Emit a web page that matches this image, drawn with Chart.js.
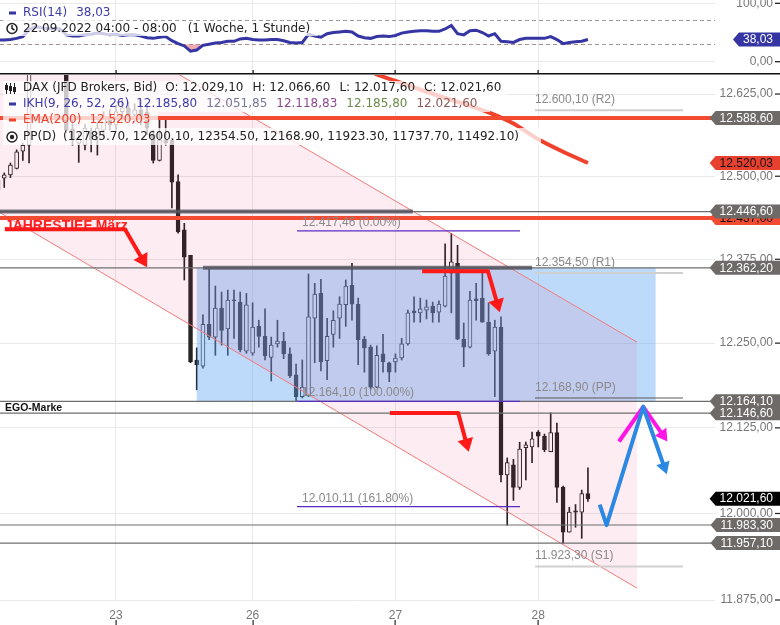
<!DOCTYPE html>
<html>
<head>
<meta charset="utf-8">
<script src="https://cdn.jsdelivr.net/npm/chart.js@4.4.0/dist/chart.umd.min.js"></script>
<style>
  html, body { margin: 0; padding: 0; background: #fff; }
  #wrap { position: relative; width: 780px; height: 625px; overflow: hidden; }
  #rsi { position: absolute; left: 0; top: 0; }
  #main { position: absolute; left: 0; top: 75px; }
</style>
</head>
<body>
<div id="wrap">
  <canvas id="rsi" width="780" height="75"></canvas>
  <canvas id="main" width="780" height="550"></canvas>
</div>
<script>
// hourly candles, index 0 = first hour of the 23rd
const firstIndex = -19;
const opens = [
  12494,12497,12502,12512,12538,12547,12662,12685,12690,12700,
  12688,12675,12572,12550,12547,12567,12558,12570,12588,12578,
  12598,12604,12593,12601,12598,12563,12524,12555,12555,12492,
  12419,12381,12225,12216,12278,12259,12302,12271,12314,12311,
  12238,12235,12275,12260,12229,12249,12253,12234,12203,12171,
  12172,12287,12324,12224,12263,12287,12307,12336,12308,12256,
  12244,12185,12234,12221,12222,12228,12249,12298,12295,12299,
  12305,12296,12305,12354,12369,12256,12244,12316,12317,12281,
  12238,12274,12056,12071,12038,12096,12097,12119,12113,12090,
  12118,12038,11973,12004,12002,12029.1
];
const highs = [
  12500,12505,12520,12540,12550,12669,12695,12705,12710,12715,
  12700,12690,12590,12564,12579,12573,12582,12598,12601,12608,
  12616,12613,12610,12616,12607,12570,12588,12588,12558,12502,
  12429,12381,12243,12292,12360,12335,12326,12329,12329,12326,
  12324,12310,12284,12301,12259,12284,12266,12243,12219,12225,
  12353,12339,12345,12287,12298,12319,12344,12369,12317,12260,
  12247,12246,12263,12222,12234,12257,12299,12319,12317,12314,
  12311,12313,12398,12414,12396,12280,12327,12339,12354,12310,
  12284,12289,12081,12079,12104,12104,12119,12121,12116,12147,
  12132,12040,12009,12013,12034,12066.6
];
const lows = [
  12474,12483,12498,12511,12524,12520,12658,12670,12675,12680,
  12665,12566,12547,12521,12540,12537,12532,12558,12570,12570,
  12585,12585,12582,12578,12563,12520,12523,12547,12452,12414,
  12344,12221,12181,12213,12255,12232,12247,12232,12257,12237,
  12235,12232,12244,12225,12194,12244,12227,12199,12165,12169,
  12171,12221,12209,12196,12244,12257,12275,12284,12218,12207,
  12182,12184,12207,12193,12207,12225,12247,12281,12281,12286,
  12281,12281,12304,12295,12255,12215,12243,12284,12281,12232,
  12171,12046,11983,12019,12035,12049,12074,12097,12090,12090,
  12016,11957,11973,11980,11964,12017.6
];
const closes = [
  12479,12502,12517,12537,12547,12662,12685,12690,12700,12688,
  12675,12570,12555,12556,12573,12555,12573,12588,12578,12598,
  12604,12593,12601,12588,12573,12524,12555,12550,12491,12416,
  12378,12222,12218,12278,12259,12302,12269,12314,12313,12240,
  12307,12274,12260,12231,12247,12253,12234,12202,12171,12185,
  12289,12323,12222,12260,12284,12308,12335,12308,12255,12243,
  12185,12232,12222,12207,12228,12249,12295,12295,12301,12304,
  12295,12308,12350,12371,12256,12244,12314,12313,12281,12234,
  12274,12056,12074,12038,12094,12100,12109,12113,12093,12118,
  12038,11973,12002,12002,12029,12021.6
];
const rsiValues = [
  37,37,38,40,43,55,60,58,57,57,
  56,46,44,44,46,47,49,48,46,47,
  45,46,46,44,41,40,42,43,36,31,
  27,18,20,28,30,32,33,35,35,39,
  40,38,37,37,38,38,36,33,32,33,
  47,44,42,48,50,51,52,51,44,41,
  40,43,44,43,45,49,51,52,53,53,
  52,52,56,62,48,46,53,54,50,44,
  48,35,34,33,38,40,40,40,40,43,
  38,31,33,34,35,38.03
];
const emaIndex = [40, 42, 45, 48, 52, 56, 60, 64, 68, 72, 76];
const emaValues = [12664, 12655, 12645, 12635, 12622, 12610, 12597, 12580, 12556, 12537, 12520.03];

const dayTicks = [0, 22, 45, 68];
const dayLabels = ['23', '26', '27', '28'];
const priceTicks = [11875, 12000, 12125, 12250, 12375, 12500, 12625];
const rsiTicks = [0, 30, 70, 100];

const greyLevels = [12446.6, 12362.2, 12164.1, 12146.6, 11983.3, 11957.1];
const redLevels = [12588.6, 12437.0];
const segStart = [-30, 14];
const segEnd = [47.8, 67];
const segPrice = [12446.6, 12362.2];
const fibValues = [12417.46, 12164.10, 12010.11];
const fibLabels = ['0.00%', '100.00%', '161.80%'];
const fibRange = [29.15, 65.06];
const pivotValues = [12600.10, 12354.50, 12168.90, 11923.30];
const pivotNames = ['R2', 'R1', 'PP', 'S1'];
const pivotRange = [67.47, 91.3];
const pivotDaily = [12785.70, 12600.10, 12354.50, 12168.90, 11923.30, 11737.70, 11492.10];
const ikhValues = [12185.80, 12051.85, 12118.83, 12185.80, 12021.60];
const channelUpper = [[10.3, 12654], [83.9, 12251.5]];
const channelLower = [[-18.68, 12445], [83.9, 11892]];
const boxIndex = [13.0, 86.9];
const boxPrice = [12362.2, 12164.1];
const arrowRed1 = [[-17.9, 12420], [1.45, 12420], [5.0, 12363]];
const arrowRed2 = [[49.3, 12357], [59.9, 12357], [61.8, 12296]];
const arrowRed3 = [[44.1, 12147], [55.1, 12147], [56.8, 12090]];
const arrowBlue = [[77.9, 12013], [79.0, 11983], [84.9, 12156], [88.7, 12057]];
const arrowMagenta = [[81.0, 12105], [84.9, 12156], [88.8, 12105]];
const jahrestiefAt = [-17.9, 12425];

const xMin = -18.68, xMax = 96.46;
const last = closes.length - 1;

function fmt(v) {
  const s = Number(v).toFixed(2).split('.');
  return s[0].replace(/\B(?=(\d{3})+(?!\d))/g, '.') + ',' + s[1];
}

Chart.defaults.font.family = '"Liberation Sans", Arial, sans-serif';
Chart.defaults.font.size = 12;
Chart.defaults.color = '#777';

// keep label overflow from shrinking the plot area
function noPad(s) {
  s.paddingTop = 0; s.paddingBottom = 0; s.paddingLeft = 0; s.paddingRight = 0;
}

function xScale(showLabels) {
  return {
    type: 'linear', min: xMin, max: xMax, offset: false,
    afterBuildTicks: s => { s.ticks = dayTicks.map(v => ({value: v})); },
    afterFit: s => { s.height = showLabels ? 25 : 1; noPad(s); },
    grid: {color: '#e9e9e9', drawTicks: false, offset: false},
    border: {display: false},
    ticks: {
      display: showLabels, padding: 8, maxRotation: 0, autoSkip: false, color: '#777',
      callback: v => { const k = dayTicks.indexOf(v); return k < 0 ? '' : dayLabels[k]; }
    }
  };
}

function tag(ctx, yPix, text, bg, fg) {
  ctx.save();
  ctx.font = '12px "Liberation Sans"';
  const w = ctx.measureText(text).width;
  const x0 = 773 - w - 4, h = 14;
  ctx.fillStyle = bg;
  ctx.beginPath();
  ctx.moveTo(x0 - 6, yPix);
  ctx.lineTo(x0, yPix - h / 2);
  ctx.lineTo(780, yPix - h / 2);
  ctx.lineTo(780, yPix + h / 2);
  ctx.lineTo(x0, yPix + h / 2);
  ctx.closePath();
  ctx.fill();
  ctx.fillStyle = fg;
  ctx.textAlign = 'right';
  ctx.textBaseline = 'middle';
  ctx.fillText(text, 773, yPix + 0.5);
  ctx.restore();
}

function hline(ctx, x0, x1, y, color, w) {
  ctx.strokeStyle = color; ctx.lineWidth = w;
  ctx.beginPath(); ctx.moveTo(x0, y); ctx.lineTo(x1, y); ctx.stroke();
}

function drawArrow(ctx, pts, color, width, head, half) {
  ctx.save();
  ctx.strokeStyle = color; ctx.fillStyle = color; ctx.lineWidth = width; ctx.lineJoin = 'round';
  const n = pts.length, tip = pts[n - 1], prev = pts[n - 2];
  const dx = tip.x - prev.x, dy = tip.y - prev.y, len = Math.hypot(dx, dy);
  const ux = dx / len, uy = dy / len;
  const bx = tip.x - ux * head, by = tip.y - uy * head;
  ctx.beginPath();
  ctx.moveTo(pts[0].x, pts[0].y);
  for (let k = 1; k < n - 1; k++) ctx.lineTo(pts[k].x, pts[k].y);
  ctx.lineTo(bx + ux * 2, by + uy * 2);
  ctx.stroke();
  ctx.beginPath();
  ctx.moveTo(tip.x, tip.y);
  ctx.lineTo(bx - uy * half, by + ux * half);
  ctx.lineTo(bx + uy * half, by - ux * half);
  ctx.closePath();
  ctx.fill();
  ctx.restore();
}

function legendRow(ctx, x, y, parts) {
  ctx.font = '12px "DejaVu Sans"';
  ctx.textBaseline = 'middle';
  ctx.textAlign = 'left';
  for (const [text, color, gap] of parts) {
    ctx.fillStyle = color;
    ctx.fillText(text, x, y);
    x += ctx.measureText(text).width + gap;
  }
}

function whiteBox(ctx, x0, y0, x1, y1) {
  ctx.fillStyle = 'rgba(255,255,255,0.75)';
  ctx.fillRect(x0, y0, x1 - x0, y1 - y0);
}

// ---------- RSI pane ----------
const rsiPane = {
  id: 'rsiPane',
  afterDatasetsDraw(chart) {
    const ctx = chart.ctx;
    ctx.save();
    whiteBox(ctx, 3, 5, 112, 21);
    whiteBox(ctx, 3, 21, 318, 36);
    ctx.fillStyle = '#3535a3';
    ctx.fillRect(9, 11.5, 7, 3);
    legendRow(ctx, 23, 13, [['RSI(14)', '#3c3caa', 9], [fmt(rsiValues[last]), '#3c3caa', 0]]);
    ctx.strokeStyle = '#222'; ctx.lineWidth = 1.5;
    ctx.beginPath(); ctx.arc(12, 28.5, 5, 0, Math.PI * 2); ctx.stroke();
    ctx.beginPath(); ctx.moveTo(12, 25); ctx.lineTo(12, 28.5); ctx.lineTo(14.5, 30); ctx.stroke();
    legendRow(ctx, 23, 29, [['22.09.2022 04:00 - 08:00', '#222', 11], ['(1 Woche, 1 Stunde)', '#222', 0]]);
    ctx.restore();
  },
  afterDraw(chart) {
    const ctx = chart.ctx, x = chart.scales.x, y = chart.scales.y;
    ctx.save();
    ctx.fillStyle = '#111';
    ctx.fillRect(0, 73, 780, 1.5);
    dayTicks.forEach(v => ctx.fillRect(Math.round(x.getPixelForValue(v)) - 0.5, 70, 1.2, 4));
    [0, 100].forEach(v => ctx.fillRect(775, y.getPixelForValue(v) - 0.6, 5, 1.2));
    tag(ctx, y.getPixelForValue(rsiValues[last]), fmt(rsiValues[last]), '#3535a3', '#fff');
    ctx.restore();
  }
};

const rsiDashed = c => c.tick && (c.tick.value === 30 || c.tick.value === 70);

new Chart(document.getElementById('rsi'), {
  type: 'line',
  data: {
    datasets: [{
      data: rsiValues.map((v, k) => ({x: firstIndex + k, y: v})),
      borderColor: '#3535a3', borderWidth: 3, pointRadius: 0,
      fill: {target: {value: 30}, above: 'rgba(0,0,0,0)', below: 'rgba(232,110,120,0.6)'}
    }]
  },
  options: {
    responsive: false, animation: false, devicePixelRatio: 1,
    layout: {padding: {right: 7}, autoPadding: false},
    plugins: {legend: {display: false}, tooltip: {enabled: false}},
    scales: {
      x: xScale(false),
      y: {
        type: 'linear', position: 'right', min: -21, max: 105.65,
        afterBuildTicks: s => { s.ticks = rsiTicks.map(v => ({value: v})); },
        afterFit: s => { s.width = 58; noPad(s); },
        grid: {color: c => rsiDashed(c) ? '#9a9a9a' : '#e9e9e9', drawTicks: false},
        border: {display: false, dash: c => rsiDashed(c) ? [4, 3] : []},
        ticks: {crossAlign: 'far', autoSkip: false, color: '#777',
          callback: v => (v === 0 || v === 100) ? fmt(v) : ''}
      }
    }
  },
  plugins: [rsiPane]
});

// ---------- main pane ----------
const isUp = opens.map((o, k) => closes[k] >= o);
const candleColor = '#222';

const overlays = {
  id: 'overlays',
  afterDatasetsDraw(chart) {
    const {ctx, chartArea: a} = chart;
    const X = v => chart.scales.x.getPixelForValue(v);
    const Y = v => chart.scales.y.getPixelForValue(v);
    const P = p => ({x: X(p[0]), y: Y(p[1])});
    ctx.save();
    ctx.beginPath(); ctx.rect(a.left, a.top, a.right - a.left, a.bottom - a.top); ctx.clip();

    // range box
    const bx0 = X(boxIndex[0]), bx1 = X(boxIndex[1]), by0 = Y(boxPrice[0]), by1 = Y(boxPrice[1]);
    ctx.fillStyle = 'rgba(98,166,242,0.42)';
    ctx.fillRect(bx0, by0, bx1 - bx0, by1 - by0);

    // falling channel
    const u0 = P(channelUpper[0]), u1 = P(channelUpper[1]);
    const l0 = P(channelLower[0]), l1 = P(channelLower[1]);
    const at = (p, q, x) => p.y + (q.y - p.y) * (x - p.x) / (q.x - p.x);
    const xl = a.left - 20;
    ctx.fillStyle = 'rgba(236,58,108,0.09)';
    ctx.beginPath();
    ctx.moveTo(xl, at(u0, u1, xl)); ctx.lineTo(u1.x, u1.y);
    ctx.lineTo(l1.x, l1.y); ctx.lineTo(xl, at(l0, l1, xl));
    ctx.closePath(); ctx.fill();
    ctx.strokeStyle = '#f27a7a'; ctx.lineWidth = 1;
    ctx.beginPath(); ctx.moveTo(xl, at(u0, u1, xl)); ctx.lineTo(u1.x, u1.y); ctx.stroke();
    ctx.beginPath(); ctx.moveTo(xl, at(l0, l1, xl)); ctx.lineTo(l1.x, l1.y); ctx.stroke();

    // Jahrestief text
    ctx.font = 'bold 14px "Liberation Sans"';
    ctx.fillStyle = '#ff2020'; ctx.textBaseline = 'middle'; ctx.textAlign = 'left';
    ctx.fillText('JAHRESTIEF März', X(jahrestiefAt[0]), Y(jahrestiefAt[1]));

    // horizontal levels
    greyLevels.forEach(v => hline(ctx, a.left, a.right, Y(v), '#6e6e6e', 1.2));
    segPrice.forEach((v, k) => hline(ctx, X(segStart[k]), X(segEnd[k]), Y(v), 'rgba(80,80,90,0.78)', 4));
    redLevels.forEach(v => hline(ctx, a.left, a.right, Y(v), '#f34a32', 4));

    // EGO-Marke
    ctx.font = 'bold 10.5px "Liberation Sans"';
    ctx.fillStyle = '#111'; ctx.textBaseline = 'top';
    ctx.fillText('EGO-Marke', a.left + 5, Y(12164.1) + 2);

    // fibonacci
    ctx.font = '12px "Liberation Sans"';
    ctx.textBaseline = 'alphabetic';
    fibValues.forEach((v, k) => {
      hline(ctx, X(fibRange[0]), X(fibRange[1]), Y(v), '#5a2bc0', 1.2);
      ctx.fillStyle = '#8a8a8a';
      ctx.fillText(fmt(v) + ' (' + fibLabels[k] + ')', X(fibRange[0]) + 5, Y(v) - 5);
    });

    // daily pivots
    pivotValues.forEach((v, k) => {
      const pp = pivotNames[k] === 'PP';
      hline(ctx, X(pivotRange[0]), X(pivotRange[1]), Y(v), pp ? '#5a5a5a' : '#cfcfcf', pp ? 1.2 : 2);
      ctx.fillStyle = '#8a8a8a';
      ctx.fillText(fmt(v) + ' (' + pivotNames[k] + ')', X(pivotRange[0]), Y(v) - 7);
    });

    // arrows
    const pts = arr => arr.map(P);
    drawArrow(ctx, pts(arrowRed1), '#ff1a1a', 4, 13, 8);
    drawArrow(ctx, pts(arrowRed2), '#ff1a1a', 4, 13, 8);
    drawArrow(ctx, pts(arrowRed3), '#ff1a1a', 4, 13, 8);
    drawArrow(ctx, pts(arrowMagenta), '#ff14e6', 4, 12, 7);
    drawArrow(ctx, pts(arrowBlue), '#2b88e3', 4, 12, 7);

    // legend
    whiteBox(ctx, 3, 6, 507, 21);
    whiteBox(ctx, 3, 21, 490, 37);
    whiteBox(ctx, 3, 37, 158, 53);
    whiteBox(ctx, 3, 53, 541, 70);
    ctx.fillStyle = '#222'; ctx.strokeStyle = '#222'; ctx.lineWidth = 1;
    [6.5, 10.5, 14.5].forEach((cx, k) => {
      ctx.beginPath(); ctx.moveTo(cx, 8); ctx.lineTo(cx, 19); ctx.stroke();
      ctx.fillRect(cx - 1.5, 10 + k, 3, 5);
    });
    legendRow(ctx, 23, 13, [
      ['DAX (JFD Brokers, Bid)', '#222', 8],
      ['O: ' + fmt(opens[last]), '#222', 9],
      ['H: ' + fmt(highs[last]), '#222', 9],
      ['L: ' + fmt(lows[last]), '#222', 9],
      ['C: ' + fmt(closes[last]), '#222', 0]
    ]);
    ctx.fillStyle = '#3535a3'; ctx.fillRect(9, 27.5, 7, 3);
    const ikhColors = ['#3c3caa', '#77779a', '#8c4a8c', '#6b8b4b', '#8c5a5a'];
    legendRow(ctx, 23, 29, [['IKH(9, 26, 52, 26)', '#3c3caa', 7]].concat(
      ikhValues.map((v, k) => [fmt(v), ikhColors[k], 9])));
    ctx.fillStyle = '#f0412c'; ctx.fillRect(9, 43.5, 7, 3);
    legendRow(ctx, 23, 45, [['EMA(200)', '#f0412c', 8], [fmt(emaValues[emaValues.length - 1]), '#f0412c', 0]]);
    ctx.strokeStyle = '#222'; ctx.lineWidth = 1.4;
    ctx.beginPath(); ctx.arc(12, 62, 5, 0, Math.PI * 2); ctx.stroke();
    ctx.fillStyle = '#222'; ctx.beginPath(); ctx.arc(12, 62, 2.2, 0, Math.PI * 2); ctx.fill();
    legendRow(ctx, 23, 62, [['PP(D)', '#222', 7], ['(' + pivotDaily.map(v => v.toFixed(2)).join(', ') + ')', '#222', 0]]);
    ctx.restore();
  },
  afterDraw(chart) {
    const ctx = chart.ctx;
    const X = v => chart.scales.x.getPixelForValue(v);
    const Y = v => chart.scales.y.getPixelForValue(v);
    ctx.save();
    ctx.fillStyle = '#222';
    priceTicks.forEach(v => ctx.fillRect(775, Y(v) - 0.6, 5, 1.2));
    dayTicks.forEach(v => ctx.fillRect(Math.round(X(v)) - 0.5, 545, 1.2, 5));
    const grey = '#6e6a67';
    tag(ctx, Y(12588.6), fmt(12588.6), grey, '#fff');
    tag(ctx, Y(emaValues[emaValues.length - 1]), fmt(emaValues[emaValues.length - 1]), '#e8402e', '#111');
    tag(ctx, Y(redLevels[1]), fmt(redLevels[1]), '#f34a32', '#111');
    tag(ctx, Y(12446.6), fmt(12446.6), grey, '#fff');
    tag(ctx, Y(12362.2), fmt(12362.2), grey, '#fff');
    tag(ctx, Y(12164.1), fmt(12164.1), grey, '#fff');
    tag(ctx, Y(12146.6), fmt(12146.6), grey, '#fff');
    tag(ctx, Y(closes[last]), fmt(closes[last]), '#000', '#fff');
    tag(ctx, Y(11983.3), fmt(11983.3), grey, '#fff');
    tag(ctx, Y(11957.1), fmt(11957.1), grey, '#fff');
    ctx.restore();
  }
};

new Chart(document.getElementById('main'), {
  type: 'bar',
  data: {
    datasets: [
      {
        label: 'EMA(200)', type: 'line', order: 1,
        data: emaIndex.map((x, k) => ({x, y: emaValues[k]})),
        borderColor: '#f0412c', borderWidth: 4, pointRadius: 0, tension: 0.2
      },
      {
        label: 'body', order: 2, grouped: false,
        data: opens.map((o, k) => ({x: firstIndex + k, y: [o, closes[k]]})),
        backgroundColor: isUp.map(u => u ? '#fff' : candleColor),
        borderColor: candleColor, borderWidth: 1, borderSkipped: false,
        barThickness: 4, minBarLength: 1
      },
      {
        label: 'wick', order: 3, grouped: false,
        data: lows.map((l, k) => ({x: firstIndex + k, y: [l, highs[k]]})),
        backgroundColor: candleColor, barThickness: 1
      }
    ]
  },
  options: {
    responsive: false, animation: false, devicePixelRatio: 1,
    layout: {padding: {right: 7}, autoPadding: false},
    plugins: {legend: {display: false}, tooltip: {enabled: false}},
    scales: {
      x: xScale(true),
      y: {
        type: 'logarithmic', position: 'right', min: 11875, max: 12654.1, beginAtZero: false,
        afterBuildTicks: s => { s.ticks = priceTicks.map(v => ({value: v})); },
        afterFit: s => { s.width = 58; noPad(s); },
        grid: {color: '#e9e9e9', drawTicks: false},
        border: {display: false},
        ticks: {crossAlign: 'far', autoSkip: false, color: '#777', callback: v => fmt(v)}
      }
    }
  },
  plugins: [overlays]
});
</script>
</body>
</html>
